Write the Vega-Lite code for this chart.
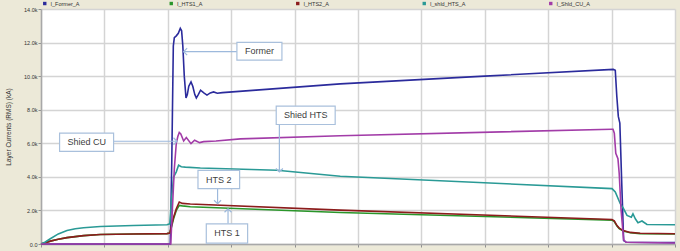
{
  "$schema": "https://vega.github.io/schema/vega-lite/v6.json",
  "width": 634,
  "height": 235,
  "autosize": {"type": "none"},
  "padding": {"left": 41, "top": 9, "right": 5, "bottom": 7},
  "background": "#ECE9D8",
  "config": {
    "view": {"fill": "#ffffff", "stroke": null},
    "font": "Liberation Sans",
    "axis": {
      "labelFont": "Liberation Sans",
      "labelFontSize": 5.5,
      "labelColor": "#333333",
      "domainColor": "#a8a8a8",
      "domainWidth": 1.5,
      "tickColor": "#909090",
      "tickSize": 3,
      "gridColor": "#d4d4d4",
      "gridWidth": 1.5,
      "titleFont": "Liberation Sans",
      "titleFontWeight": "normal",
      "titleFontSize": 6.5,
      "titleColor": "#333333"
    },
    "legend": {
      "labelFont": "Liberation Sans",
      "labelFontSize": 5.5,
      "labelColor": "#333333"
    }
  },
  "resolve": {"axis": {"x": "independent", "y": "independent"}},
  "datasets": {
    "curves": [
      {"series": "I_Former_A", "t": 0, "v": 0},
      {"series": "I_Former_A", "t": 2.039, "v": 0},
      {"series": "I_Former_A", "t": 2.063, "v": 5},
      {"series": "I_Former_A", "t": 2.087, "v": 11.8},
      {"series": "I_Former_A", "t": 2.103, "v": 12.3},
      {"series": "I_Former_A", "t": 2.134, "v": 12.4},
      {"series": "I_Former_A", "t": 2.166, "v": 12.55},
      {"series": "I_Former_A", "t": 2.197, "v": 12.85},
      {"series": "I_Former_A", "t": 2.218, "v": 12.7},
      {"series": "I_Former_A", "t": 2.237, "v": 11.8},
      {"series": "I_Former_A", "t": 2.26, "v": 10.0},
      {"series": "I_Former_A", "t": 2.287, "v": 8.7},
      {"series": "I_Former_A", "t": 2.308, "v": 8.9},
      {"series": "I_Former_A", "t": 2.331, "v": 9.4},
      {"series": "I_Former_A", "t": 2.366, "v": 9.66},
      {"series": "I_Former_A", "t": 2.394, "v": 9.4},
      {"series": "I_Former_A", "t": 2.426, "v": 8.9},
      {"series": "I_Former_A", "t": 2.45, "v": 8.7},
      {"series": "I_Former_A", "t": 2.481, "v": 8.9},
      {"series": "I_Former_A", "t": 2.517, "v": 9.16},
      {"series": "I_Former_A", "t": 2.568, "v": 9.0},
      {"series": "I_Former_A", "t": 2.618, "v": 8.87},
      {"series": "I_Former_A", "t": 2.67, "v": 9.0},
      {"series": "I_Former_A", "t": 2.722, "v": 9.06},
      {"series": "I_Former_A", "t": 2.781, "v": 8.98},
      {"series": "I_Former_A", "t": 2.86, "v": 9.02},
      {"series": "I_Former_A", "t": 4.72, "v": 9.54},
      {"series": "I_Former_A", "t": 6.997, "v": 10.0},
      {"series": "I_Former_A", "t": 9.027, "v": 10.4},
      {"series": "I_Former_A", "t": 9.058, "v": 10.35},
      {"series": "I_Former_A", "t": 9.082, "v": 8.8},
      {"series": "I_Former_A", "t": 9.106, "v": 7.6},
      {"series": "I_Former_A", "t": 9.13, "v": 7.2},
      {"series": "I_Former_A", "t": 9.161, "v": 3.5},
      {"series": "I_Former_A", "t": 9.19, "v": 0.2},
      {"series": "I_Former_A", "t": 9.232, "v": 0.1},
      {"series": "I_Former_A", "t": 10, "v": 0.08},

      {"series": "I_HTS1_A", "t": 0, "v": 0},
      {"series": "I_HTS1_A", "t": 0.068, "v": 0.08},
      {"series": "I_HTS1_A", "t": 0.147, "v": 0.17},
      {"series": "I_HTS1_A", "t": 0.273, "v": 0.28},
      {"series": "I_HTS1_A", "t": 0.41, "v": 0.38},
      {"series": "I_HTS1_A", "t": 0.672, "v": 0.5},
      {"series": "I_HTS1_A", "t": 0.935, "v": 0.57},
      {"series": "I_HTS1_A", "t": 1.456, "v": 0.6},
      {"series": "I_HTS1_A", "t": 1.987, "v": 0.62},
      {"series": "I_HTS1_A", "t": 2.032, "v": 0.65},
      {"series": "I_HTS1_A", "t": 2.047, "v": 0.85},
      {"series": "I_HTS1_A", "t": 2.091, "v": 1.5},
      {"series": "I_HTS1_A", "t": 2.134, "v": 2.0},
      {"series": "I_HTS1_A", "t": 2.181, "v": 2.3},
      {"series": "I_HTS1_A", "t": 2.229, "v": 2.27},
      {"series": "I_HTS1_A", "t": 2.355, "v": 2.22},
      {"series": "I_HTS1_A", "t": 4.72, "v": 1.88},
      {"series": "I_HTS1_A", "t": 9.006, "v": 1.42},
      {"series": "I_HTS1_A", "t": 9.042, "v": 1.34},
      {"series": "I_HTS1_A", "t": 9.085, "v": 1.07},
      {"series": "I_HTS1_A", "t": 9.12, "v": 0.92},
      {"series": "I_HTS1_A", "t": 9.183, "v": 0.78},
      {"series": "I_HTS1_A", "t": 9.294, "v": 0.67},
      {"series": "I_HTS1_A", "t": 9.45, "v": 0.62},
      {"series": "I_HTS1_A", "t": 10, "v": 0.6},

      {"series": "I_HTS2_A", "t": 0, "v": 0},
      {"series": "I_HTS2_A", "t": 0.068, "v": 0.08},
      {"series": "I_HTS2_A", "t": 0.147, "v": 0.17},
      {"series": "I_HTS2_A", "t": 0.273, "v": 0.28},
      {"series": "I_HTS2_A", "t": 0.41, "v": 0.38},
      {"series": "I_HTS2_A", "t": 0.672, "v": 0.5},
      {"series": "I_HTS2_A", "t": 0.935, "v": 0.57},
      {"series": "I_HTS2_A", "t": 1.456, "v": 0.6},
      {"series": "I_HTS2_A", "t": 1.987, "v": 0.62},
      {"series": "I_HTS2_A", "t": 2.032, "v": 0.65},
      {"series": "I_HTS2_A", "t": 2.047, "v": 0.9},
      {"series": "I_HTS2_A", "t": 2.091, "v": 1.6},
      {"series": "I_HTS2_A", "t": 2.134, "v": 2.1},
      {"series": "I_HTS2_A", "t": 2.181, "v": 2.5},
      {"series": "I_HTS2_A", "t": 2.229, "v": 2.42},
      {"series": "I_HTS2_A", "t": 2.355, "v": 2.38},
      {"series": "I_HTS2_A", "t": 4.72, "v": 2.02},
      {"series": "I_HTS2_A", "t": 9.006, "v": 1.46},
      {"series": "I_HTS2_A", "t": 9.042, "v": 1.38},
      {"series": "I_HTS2_A", "t": 9.085, "v": 1.1},
      {"series": "I_HTS2_A", "t": 9.12, "v": 0.95},
      {"series": "I_HTS2_A", "t": 9.183, "v": 0.8},
      {"series": "I_HTS2_A", "t": 9.294, "v": 0.69},
      {"series": "I_HTS2_A", "t": 9.45, "v": 0.64},
      {"series": "I_HTS2_A", "t": 10, "v": 0.61},

      {"series": "I_shld_HTS_A", "t": 0, "v": 0},
      {"series": "I_shld_HTS_A", "t": 0.068, "v": 0.12},
      {"series": "I_shld_HTS_A", "t": 0.147, "v": 0.31},
      {"series": "I_shld_HTS_A", "t": 0.273, "v": 0.6},
      {"series": "I_shld_HTS_A", "t": 0.41, "v": 0.8},
      {"series": "I_shld_HTS_A", "t": 0.541, "v": 0.91},
      {"series": "I_shld_HTS_A", "t": 0.672, "v": 0.97},
      {"series": "I_shld_HTS_A", "t": 0.935, "v": 1.04},
      {"series": "I_shld_HTS_A", "t": 1.456, "v": 1.1},
      {"series": "I_shld_HTS_A", "t": 1.987, "v": 1.15},
      {"series": "I_shld_HTS_A", "t": 2.032, "v": 1.2},
      {"series": "I_shld_HTS_A", "t": 2.055, "v": 2.5},
      {"series": "I_shld_HTS_A", "t": 2.091, "v": 3.99},
      {"series": "I_shld_HTS_A", "t": 2.134, "v": 4.3},
      {"series": "I_shld_HTS_A", "t": 2.17, "v": 4.69},
      {"series": "I_shld_HTS_A", "t": 2.213, "v": 4.6},
      {"series": "I_shld_HTS_A", "t": 2.276, "v": 4.58},
      {"series": "I_shld_HTS_A", "t": 2.513, "v": 4.53},
      {"series": "I_shld_HTS_A", "t": 3.722, "v": 4.39},
      {"series": "I_shld_HTS_A", "t": 4.72, "v": 4.04},
      {"series": "I_shld_HTS_A", "t": 9.006, "v": 3.3},
      {"series": "I_shld_HTS_A", "t": 9.058, "v": 3.1},
      {"series": "I_shld_HTS_A", "t": 9.137, "v": 2.4},
      {"series": "I_shld_HTS_A", "t": 9.18, "v": 2.16},
      {"series": "I_shld_HTS_A", "t": 9.243, "v": 1.7},
      {"series": "I_shld_HTS_A", "t": 9.311, "v": 1.6},
      {"series": "I_shld_HTS_A", "t": 9.337, "v": 1.8},
      {"series": "I_shld_HTS_A", "t": 9.374, "v": 1.5},
      {"series": "I_shld_HTS_A", "t": 9.416, "v": 1.27},
      {"series": "I_shld_HTS_A", "t": 9.479, "v": 1.37},
      {"series": "I_shld_HTS_A", "t": 9.558, "v": 1.16},
      {"series": "I_shld_HTS_A", "t": 10, "v": 1.15},

      {"series": "I_Shld_CU_A", "t": 0, "v": 0},
      {"series": "I_Shld_CU_A", "t": 2.047, "v": 0},
      {"series": "I_Shld_CU_A", "t": 2.071, "v": 2.0},
      {"series": "I_Shld_CU_A", "t": 2.103, "v": 4.5},
      {"series": "I_Shld_CU_A", "t": 2.134, "v": 6.0},
      {"series": "I_Shld_CU_A", "t": 2.158, "v": 6.4},
      {"series": "I_Shld_CU_A", "t": 2.181, "v": 6.64},
      {"series": "I_Shld_CU_A", "t": 2.205, "v": 6.55},
      {"series": "I_Shld_CU_A", "t": 2.25, "v": 6.14},
      {"series": "I_Shld_CU_A", "t": 2.292, "v": 6.34},
      {"series": "I_Shld_CU_A", "t": 2.366, "v": 5.98},
      {"series": "I_Shld_CU_A", "t": 2.423, "v": 6.18},
      {"series": "I_Shld_CU_A", "t": 2.502, "v": 6.04},
      {"series": "I_Shld_CU_A", "t": 2.565, "v": 6.1},
      {"series": "I_Shld_CU_A", "t": 2.76, "v": 6.14},
      {"series": "I_Shld_CU_A", "t": 3.144, "v": 6.26},
      {"series": "I_Shld_CU_A", "t": 4.72, "v": 6.45},
      {"series": "I_Shld_CU_A", "t": 9.006, "v": 6.84},
      {"series": "I_Shld_CU_A", "t": 9.022, "v": 6.84},
      {"series": "I_Shld_CU_A", "t": 9.043, "v": 6.6},
      {"series": "I_Shld_CU_A", "t": 9.066, "v": 5.4},
      {"series": "I_Shld_CU_A", "t": 9.1, "v": 5.08},
      {"series": "I_Shld_CU_A", "t": 9.12, "v": 4.2},
      {"series": "I_Shld_CU_A", "t": 9.15, "v": 2.0},
      {"series": "I_Shld_CU_A", "t": 9.19, "v": 0.25},
      {"series": "I_Shld_CU_A", "t": 9.23, "v": 0.1},
      {"series": "I_Shld_CU_A", "t": 10, "v": 0.06}
    ],
    "boxes": [
      {"label": "Former", "x1": 3.09, "x2": 3.8, "y1": 10.96, "y2": 12.01, "tx": 3.445, "ty": 11.49},
      {"label": "Shied HTS", "x1": 3.71, "x2": 4.64, "y1": 7.12, "y2": 8.21, "tx": 4.175, "ty": 7.66},
      {"label": "Shied CU", "x1": 0.293, "x2": 1.145, "y1": 5.52, "y2": 6.61, "tx": 0.72, "ty": 6.07},
      {"label": "HTS 2", "x1": 2.476, "x2": 3.133, "y1": 3.3, "y2": 4.39, "tx": 2.805, "ty": 3.84},
      {"label": "HTS 1", "x1": 2.607, "x2": 3.259, "y1": 0.05, "y2": 1.2, "tx": 2.933, "ty": 0.63}
    ],
    "arrows": [
      {"label": "Former", "x1": 3.09, "y1": 11.46, "x2": 2.25, "y2": 11.46, "dir": "left"},
      {"label": "Shied HTS", "x1": 3.76, "y1": 7.12, "x2": 3.76, "y2": 4.29, "dir": "down"},
      {"label": "Shied CU", "x1": 1.145, "y1": 6.12, "x2": 2.145, "y2": 6.12, "dir": "right"},
      {"label": "HTS 2", "x1": 2.785, "y1": 3.3, "x2": 2.785, "y2": 2.4, "dir": "down"},
      {"label": "HTS 1", "x1": 2.95, "y1": 1.2, "x2": 2.95, "y2": 2.1, "dir": "up"}
    ]
  },
  "layer": [
    {
      "data": {"name": "curves"},
      "mark": {"type": "line", "strokeWidth": 1.6, "interpolate": "linear"},
      "encoding": {
        "x": {
          "field": "t", "type": "quantitative",
          "scale": {"domain": [0, 10], "nice": false, "zero": false},
          "axis": {"title": null, "values": [0,1,2,3,4,5,6,7,8,9,10], "labels": false, "tickSize": 3}
        },
        "y": {
          "field": "v", "type": "quantitative",
          "scale": {"domain": [0, 14], "nice": false},
          "axis": {
            "title": "Layer Currents (RMS) (kA)",
            "values": [0,2,4,6,8,10,12,14],
            "labelExpr": "datum.value == 0 ? '0.0' : format(datum.value, '.1f') + 'k'",
            "labelOverlap": false,
            "labelBound": false,
            "labelFlush": false,
            "labelPadding": 1,
            "titlePadding": 12
          }
        },
        "color": {
          "field": "series", "type": "nominal",
          "scale": {
            "domain": ["I_Former_A", "I_HTS1_A", "I_HTS2_A", "I_shld_HTS_A", "I_Shld_CU_A"],
            "range": ["#2b2b9c", "#2a962a", "#8c1c1c", "#2a9a96", "#a23ca8"]
          },
          "legend": {
            "orient": "none",
            "legendX": 1,
            "legendY": -8.5,
            "direction": "horizontal",
            "columns": 5,
            "gridAlign": "all",
            "columnPadding": 80.5,
            "title": null,
            "symbolType": "square",
            "symbolSize": 2,
            "symbolStrokeWidth": 2,
            "labelOffset": 3,
            "padding": 0
          }
        },
        "order": {"field": "t", "type": "quantitative"}
      }
    },
    {
      "data": {"name": "arrows"},
      "mark": {"type": "rule", "color": "#9db9dc", "strokeWidth": 1.2},
      "encoding": {
        "x": {"field": "x1", "type": "quantitative", "axis": null},
        "x2": {"field": "x2"},
        "y": {"field": "y1", "type": "quantitative", "axis": null},
        "y2": {"field": "y2"}
      }
    },
    {
      "data": {"name": "arrows"},
      "mark": {"type": "point", "filled": false, "size": 49, "strokeWidth": 1.2, "color": "#9db9dc", "opacity": 1},
      "encoding": {
        "x": {"field": "x2", "type": "quantitative", "axis": null},
        "y": {"field": "y2", "type": "quantitative", "axis": null},
        "shape": {
          "field": "dir", "type": "nominal",
          "scale": {
            "domain": ["left", "right", "up", "down"],
            "range": ["M1,-1L0,0L1,1", "M-1,-1L0,0L-1,1", "M-1,1L0,0L1,1", "M-1,-1L0,0L1,-1"]
          },
          "legend": null
        }
      }
    },
    {
      "data": {"name": "boxes"},
      "mark": {"type": "rect", "fill": "#ffffff", "stroke": "#a9c0dc", "strokeWidth": 1.2},
      "encoding": {
        "x": {"field": "x1", "type": "quantitative", "axis": null},
        "x2": {"field": "x2"},
        "y": {"field": "y1", "type": "quantitative", "axis": null},
        "y2": {"field": "y2"}
      }
    },
    {
      "data": {"name": "boxes"},
      "mark": {"type": "text", "font": "Liberation Sans", "fontSize": 9, "color": "#404040", "align": "center", "baseline": "middle"},
      "encoding": {
        "x": {"field": "tx", "type": "quantitative", "axis": null},
        "y": {"field": "ty", "type": "quantitative", "axis": null},
        "text": {"field": "label"}
      }
    }
  ]
}
